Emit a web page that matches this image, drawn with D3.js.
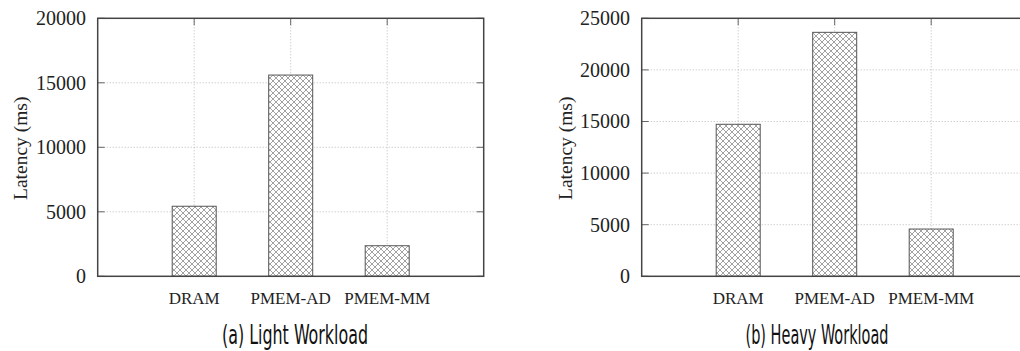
<!DOCTYPE html>
<html>
<head>
<meta charset="utf-8">
<script src="https://cdn.jsdelivr.net/npm/d3@7"></script>
<style>
  body { margin: 0; background: #fff; }
  svg { display: block; }
</style>
</head>
<body>
<svg id="chart" width="1020" height="351"></svg>
<script>
const categories = ["DRAM", "PMEM-AD", "PMEM-MM"];
const lightLatency = [5430, 15600, 2370];
const heavyLatency = [14730, 23640, 4580];
const lightTicks = [0, 5000, 10000, 15000, 20000];
const heavyTicks = [0, 5000, 10000, 15000, 20000, 25000];
const titles = ["(a) Light Workload", "(b) Heavy Workload"];

const svg = d3.select("#chart");

// crosshatch fill like gnuplot pattern
const pat = svg.append("defs").append("pattern")
  .attr("id", "hatch")
  .attr("patternUnits", "userSpaceOnUse")
  .attr("width", 6)
  .attr("height", 6);
pat.append("rect").attr("width", 6).attr("height", 6).attr("fill", "#fff");
pat.append("path")
  .attr("d", "M0,0L6,6M6,0L0,6M-1,5L1,7M5,-1L7,1M-1,1L1,-1M5,7L7,5")
  .attr("stroke", "#8a8a8a")
  .attr("stroke-width", 0.8);

const panels = [
  { values: lightLatency, ticks: lightTicks, left: 97.7, right: 483.7, label: 86, ylab: 20, titleX: 295, titleW: 146, title: titles[0] },
  { values: heavyLatency, ticks: heavyTicks, left: 641.7, right: 1027.7, label: 630, ylab: 565, titleX: 817, titleW: 143, title: titles[1] },
];

const plotTop = 18.3, plotBottom = 276.3;

panels.forEach((p) => {
  const g = svg.append("g");
  const x = d3.scalePoint().domain(categories).range([p.left, p.right]).padding(1);
  const y = d3.scaleLinear().domain([0, d3.max(p.ticks)]).range([plotBottom, plotTop]);
  const bw = x.step() * 0.456;

  // grid
  g.selectAll(".hgrid")
    .data(p.ticks.slice(1, -1))
    .join("line")
    .attr("x1", p.left).attr("x2", p.right)
    .attr("y1", (d) => y(d)).attr("y2", (d) => y(d))
    .attr("stroke", "#bbb").attr("stroke-dasharray", "1,2");
  g.selectAll(".vgrid")
    .data(categories)
    .join("line")
    .attr("x1", (d) => x(d)).attr("x2", (d) => x(d))
    .attr("y1", plotTop).attr("y2", plotBottom)
    .attr("stroke", "#bbb").attr("stroke-dasharray", "1,2");

  // bars
  g.selectAll(".bar")
    .data(p.values)
    .join("rect")
    .attr("x", (d, i) => x(categories[i]) - bw / 2)
    .attr("width", bw)
    .attr("y", (d) => y(d))
    .attr("height", (d) => plotBottom - y(d))
    .attr("fill", "url(#hatch)")
    .attr("stroke", "#555")
    .attr("stroke-width", 1);

  // inward ticks
  const tl = 7;
  g.selectAll(".ytl")
    .data(p.ticks)
    .join("path")
    .attr("d", (d) => `M${p.left},${y(d)}h${tl}M${p.right},${y(d)}h${-tl}`)
    .attr("stroke", "#666");
  g.selectAll(".xtl")
    .data(categories)
    .join("path")
    .attr("d", (d) => `M${x(d)},${plotTop}v${tl}`)
    .attr("stroke", "#666");

  // frame
  g.append("rect")
    .attr("x", p.left).attr("y", plotTop)
    .attr("width", p.right - p.left).attr("height", plotBottom - plotTop)
    .attr("fill", "none").attr("stroke", "#444").attr("stroke-width", 1.5);

  // tick labels
  g.selectAll(".yl")
    .data(p.ticks)
    .join("text")
    .attr("x", p.label).attr("y", (d) => y(d))
    .attr("dy", "0.34em")
    .attr("text-anchor", "end")
    .attr("font-family", "Liberation Serif")
    .attr("font-size", 20)
    .attr("fill", "#222")
    .text((d) => d);

  g.selectAll(".xl")
    .data(categories)
    .join("text")
    .attr("x", (d) => x(d)).attr("y", 304)
    .attr("text-anchor", "middle")
    .attr("font-family", "Liberation Serif")
    .attr("font-size", 17)
    .attr("fill", "#222")
    .text((d) => d);

  g.append("text")
    .attr("transform", `translate(${p.ylab},${(plotTop + plotBottom) / 2 + 1})rotate(-90)`)
    .attr("text-anchor", "middle")
    .attr("dy", "0.35em")
    .attr("font-family", "Liberation Serif")
    .attr("font-size", 19.5)
    .attr("fill", "#222")
    .text("Latency (ms)");

  g.append("text")
    .attr("x", p.titleX - p.titleW / 2)
    .attr("y", 344)
    .attr("textLength", p.titleW)
    .attr("lengthAdjust", "spacingAndGlyphs")
    .attr("font-family", "DejaVu Sans Condensed, DejaVu Sans")
    .attr("font-size", 27)
    .attr("fill", "#111")
    .text(p.title);
});
</script>
</body>
</html>
